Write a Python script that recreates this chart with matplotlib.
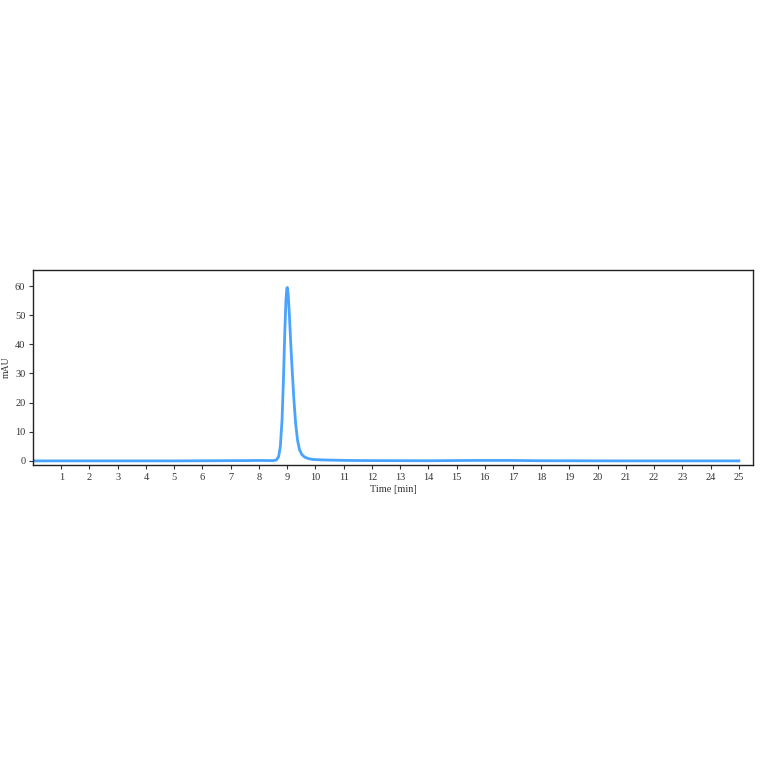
import numpy as np
import matplotlib.pyplot as plt

# chromatogram trace
time_min = [0.0, 2.0, 5.0, 7.5, 8.0, 8.5, 8.62, 8.7, 8.76, 8.82, 8.87, 8.92, 8.96,
            8.99, 9.01, 9.04, 9.08, 9.13, 9.18, 9.24, 9.3, 9.37, 9.44, 9.52, 9.62,
            9.75, 9.9, 10.2, 10.6, 11.2, 12.0, 14.0, 15.5, 17.0, 18.0, 21.0, 25.0]
signal_mau = [0.0, 0.0, 0.0, 0.1, 0.15, 0.1, 0.3, 1.5, 5.0, 14.0, 28.0, 45.0, 55.5,
              59.3, 59.5, 57.0, 50.0, 40.0, 31.0, 21.0, 13.0, 7.0, 3.8, 2.2, 1.3,
              0.8, 0.5, 0.35, 0.25, 0.15, 0.1, 0.05, 0.15, 0.15, 0.05, 0.0, 0.0]

x_ticks = list(range(1, 26))
y_ticks = [0, 10, 20, 30, 40, 50, 60]

plt.rcParams['font.family'] = ['Liberation Serif', 'DejaVu Serif']

fig = plt.figure(figsize=(7.64, 7.64), dpi=100)
ax = fig.add_axes([0.0432, 0.3914, 0.9424, 0.2552])

ax.plot(time_min, signal_mau, color='#4aa3ff', lw=2.0, solid_joinstyle='round')

ax.set_xlim(0, 25.5)
ax.set_ylim(-1.4, 65.5)
ax.set_xticks(x_ticks)
ax.set_yticks(y_ticks)
ax.tick_params(direction='out', length=3, width=0.8, labelsize=7.5, colors='#333333', pad=2.5)
for s in ax.spines.values():
    s.set_linewidth(1.0)
    s.set_color('#222222')

ax.set_xlabel('Time [min]', fontsize=7.5, color='#333333', labelpad=2.5)
ax.set_ylabel('mAU', fontsize=7, color='#333333', labelpad=3)

fig.savefig('out.png', dpi=100)
